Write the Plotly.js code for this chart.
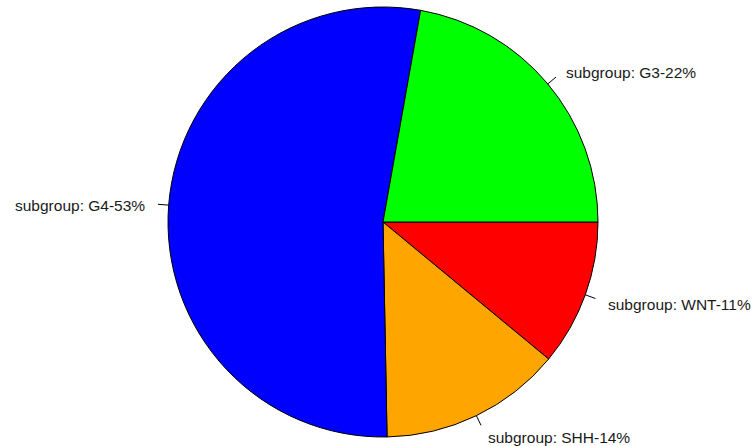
<!DOCTYPE html>
<html>
<head>
<meta charset="utf-8">
<script src="https://cdn.plot.ly/plotly-3.0.1.min.js"></script>
<style>html,body{margin:0;padding:0;background:#fff;}#chart{width:752px;height:446px;}</style>
</head>
<body>
<div id="chart"></div>
<script>
// Data (in drawing order, counterclockwise from 3 o'clock)
const labels = ["subgroup: G3-22%", "subgroup: G4-53%", "subgroup: SHH-14%", "subgroup: WNT-11%"];
const groups = ["G3", "G4", "SHH", "WNT"];
const values = [22.2, 53.1, 13.7, 11.0];
const colors = ["#00FF00", "#0000FF", "#FFA500", "#FF0000"];

// Layout geometry (pixels)
const W = 752, H = 446;
const cx = 383, cy = 222, R = 215;

const total = values.reduce((a, b) => a + b, 0);
const annotations = [];
const shapes = [];
let start = 0;
values.forEach((v, i) => {
  const mid = (start + v / 2) / total * 2 * Math.PI;
  start += v;
  const c = Math.cos(mid), s = Math.sin(mid);
  const px = r => cx + r * c, py = r => cy - r * s;
  shapes.push({
    type: "line", xref: "paper", yref: "paper",
    x0: px(R) / W, y0: 1 - py(R) / H,
    x1: px(R * 1.05) / W, y1: 1 - py(R * 1.05) / H,
    line: { color: "#000", width: 1 }
  });
  annotations.push({
    xref: "paper", yref: "paper",
    x: px(R * 1.1) / W, y: 1 - (py(R * 1.1) + 2) / H,
    text: labels[i], showarrow: false,
    xanchor: c > 0 ? "left" : "right", yanchor: "middle",
    font: { family: "Liberation Sans, Arial, sans-serif", size: 15.5, color: "#1a1a1a" }
  });
});

// Plotly: clockwise from 3 o'clock with reversed order == counterclockwise in original order
const trace = {
  type: "pie",
  labels: groups.slice().reverse(),
  values: values.slice().reverse(),
  sort: false,
  direction: "clockwise",
  rotation: 90,
  textinfo: "none",
  hoverinfo: "label+percent",
  marker: { colors: colors.slice().reverse(), line: { color: "#000", width: 1 } },
  domain: { x: [(cx - R) / W, (cx + R) / W], y: [1 - (cy + R) / H, 1 - (cy - R) / H] }
};

Plotly.newPlot("chart", [trace], {
  width: W, height: H,
  margin: { l: 0, r: 0, t: 0, b: 0 },
  showlegend: false,
  paper_bgcolor: "#fff",
  annotations: annotations,
  shapes: shapes
}, { staticPlot: true });
</script>
</body>
</html>
